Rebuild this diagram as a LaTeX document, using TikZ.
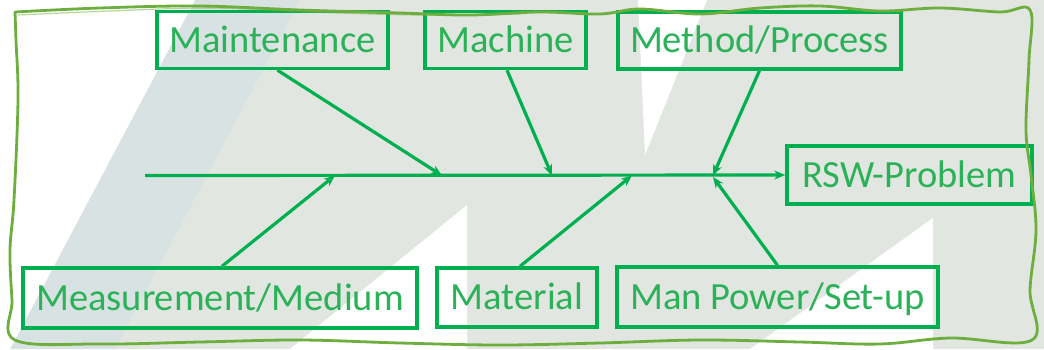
\documentclass[tikz,border=0pt]{standalone}
\usepackage{fontspec}
\setmainfont{Carlito}
\usetikzlibrary{arrows.meta}
\definecolor{fishgreen}{HTML}{00B050}
\definecolor{fishtext}{HTML}{2BB258}
\definecolor{sketchgreen}{HTML}{6DAE3F}
\definecolor{bggray}{HTML}{E1E6E0}
\definecolor{bgblue}{HTML}{D9E2E2}
\tikzset{
  causebox/.style={draw=fishgreen, line width=3.4pt, text=fishtext, inner sep=0pt,
    minimum height=57pt, text height=24.5pt, text depth=0pt,
    font=\fontsize{38.5}{41}\selectfont},
  bone/.style={draw=fishgreen, line width=3.2pt, -{Stealth[length=11pt,width=9pt]}},
  sketch/.style={draw=sketchgreen, line width=2.8pt, line join=round, line cap=round}
}
\begin{document}
\begin{tikzpicture}[x=1pt,y=-1pt]
\useasboundingbox (0,0) rectangle (1044,349);
% background
\fill[bggray] (0,0) rectangle (1044,349);
\fill[bgblue] (195,0) -- (300,0) -- (115,349) -- (10,349) -- cycle;
\fill[white] (0,0) -- (195,0) -- (10,349) -- (0,349) -- cycle;
\fill[white] (290,349) -- (467,205) -- (467,349) -- cycle;
\fill[white] (638,0) -- (707,0) -- (645,155) -- cycle;
\fill[white] (750,349) -- (933,218) -- (933,349) -- cycle;
% boxes
\node[causebox, minimum width=231pt] (maint) at (272.5,40) {Maintenance};
\node[causebox, minimum width=161pt] (mach) at (505.5,40) {Machine};
\node[causebox, minimum width=283pt] (meth) at (759.5,40.5) {Method/Process};
\node[causebox, minimum width=245pt, minimum height=58pt] (rsw) at (909.5,175) {RSW-Problem};
\node[causebox, minimum width=394pt, minimum height=60pt] (meas) at (220,298) {Measurement/Medium};
\node[causebox, minimum width=160pt, minimum height=59pt] (mat) at (517,297.5) {Material};
\node[causebox, minimum width=321pt, minimum height=60pt] (man) at (777.5,297) {Man Power/Set-up};
% spine
\coordinate (tail) at (145,175.5);
\coordinate (p1) at (442,175.5);
\coordinate (p2) at (552,175.5);
\coordinate (p3) at (713,175.5);
\coordinate (q1) at (335,175.5);
\coordinate (q2) at (632,175.5);
\coordinate (q3) at (713,177);
\draw[bone] (tail) -- (rsw.west);
\draw[bone] ([xshift=5pt]maint.south) -- (p1);
\draw[bone] ([xshift=1.5pt]mach.south) -- (p2);
\draw[bone] (meth.south) -- (p3);
\draw[bone] ([xshift=2pt]meas.north) -- (q1);
\draw[bone] ([xshift=3pt]mat.north) -- (q2);
\draw[bone] (man.north) -- (q3);
% hand-drawn frame
\draw[sketch] plot[smooth, tension=0.6] coordinates {
  (15,12) (100,8) (200,6) (300,10) (400,13) (470,15) (540,12) (600,14) (640,9)
  (700,14) (760,8) (820,6) (880,11) (940,8) (1000,12) (1030,10)
  (1029,60) (1026,130) (1031,175) (1036,230) (1030,290) (1032,340)
  (950,338) (880,344) (800,342) (700,340) (600,343) (500,345) (400,343)
  (300,340) (200,342) (100,344) (15,340)
  (12,300) (10,250) (14,200) (18,100) (16,40) (15,12)};
\draw[sketch, line width=1.2pt, opacity=0.5] plot[smooth, tension=0.6] coordinates {
  (18,15) (110,11) (210,8) (310,12) (420,15) (520,14)};
\end{tikzpicture}
\end{document}
